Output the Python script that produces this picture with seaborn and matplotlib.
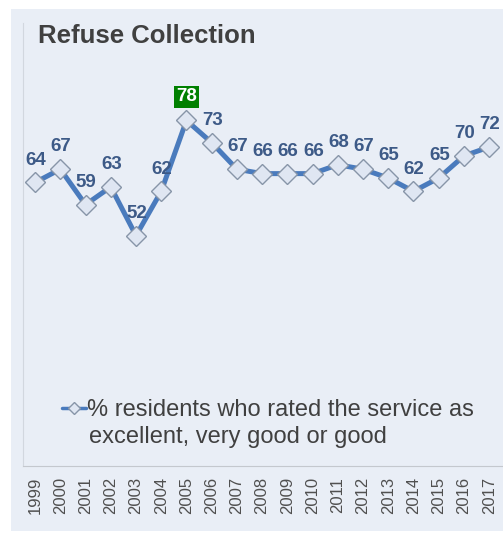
import pandas as pd
import matplotlib.pyplot as plt
import seaborn as sns
from matplotlib.patches import Rectangle

# Survey results, refuse collection
YEARS = ['1999', '2000', '2001', '2002', '2003', '2004', '2005', '2006', '2007', '2008',
         '2009', '2010', '2011', '2012', '2013', '2014', '2015', '2016', '2017']
RATED_GOOD = [64, 67, 59, 63, 52, 62, 78, 73, 67, 66, 66, 66, 68, 67, 65, 62, 65, 70, 72]
TITLE = 'Refuse Collection'
LEGEND_LINE1 = '% residents who rated the service as'
LEGEND_LINE2 = 'excellent, very good or good'

LINE_COLOR = '#4a7bbd'
LABEL_COLOR = '#3d5a87'
PANEL_COLOR = '#e9eef6'

sns.set_style('white')
plt.rcParams['font.family'] = ['Liberation Sans', 'DejaVu Sans']

df = pd.DataFrame({'Year': YEARS, 'Pct': RATED_GOOD})

fig = plt.figure(figsize=(5.03, 5.34), dpi=100)
fig.patch.set_facecolor('white')
# light panel behind the whole chart
fig.add_artist(Rectangle((11 / 503, 3 / 534), 1, 522 / 534, transform=fig.transFigure,
                         facecolor=PANEL_COLOR, edgecolor='none', zorder=-10))

ax = fig.add_axes([23 / 503, 68 / 534, 1 - 23 / 503, 443 / 534])
ax.set_facecolor('none')

sns.lineplot(data=df, x='Year', y='Pct', ax=ax, color=LINE_COLOR, linewidth=3.6,
             marker='D', markersize=10, markerfacecolor='#dfe6f2', markeredgecolor='#8795a8',
             markeredgewidth=1.0, label=LEGEND_LINE1)

ax.set_ylim(0, 100)
ax.set_xlim(-0.48, 18.55)

# value labels above each point; the peak gets a green box
peak = max(RATED_GOOD)
for i, v in enumerate(RATED_GOOD):
    if v == peak:
        ax.annotate(str(v), (i, v), xytext=(0, 17), textcoords='offset points',
                    ha='center', va='center', fontsize=13.5, fontweight='bold', color='white',
                    bbox=dict(boxstyle='square,pad=0.12', facecolor='#008000', edgecolor='none'))
    else:
        ax.annotate(str(v), (i, v), xytext=(0.5, 16), textcoords='offset points',
                    ha='center', va='center', fontsize=13.5, fontweight='bold', color=LABEL_COLOR)

ax.set_xlabel('')
ax.set_ylabel('')
ax.set_yticks([])
ax.set_xticks(range(len(YEARS)))
ax.set_xticklabels(YEARS, rotation=90, fontsize=12, color='#505050')
ax.tick_params(axis='x', length=0, pad=8)

for side in ['top', 'right']:
    ax.spines[side].set_visible(False)
ax.spines['left'].set_color('#d2d7df')
ax.spines['bottom'].set_color('#c4c8ce')

leg = ax.legend(loc='center left', bbox_to_anchor=(62 / 503, (534 - 410) / 534),
                bbox_transform=fig.transFigure, frameon=False, fontsize=17,
                handlelength=1.0, handletextpad=0.05, borderpad=0, borderaxespad=0)
for t in leg.get_texts():
    t.set_color('#404040')
leg.legend_handles[0].set_markersize(6)
leg.legend_handles[0].set_linewidth(2.5)
fig.text(89 / 503, (534 - 437) / 534, LEGEND_LINE2, fontsize=17, color='#404040',
         ha='left', va='center')

fig.text(38 / 503, (534 - 36) / 534, TITLE, fontsize=18.5, fontweight='bold',
         color='#404040', ha='left', va='center')

plt.savefig('out.png', dpi=100)
